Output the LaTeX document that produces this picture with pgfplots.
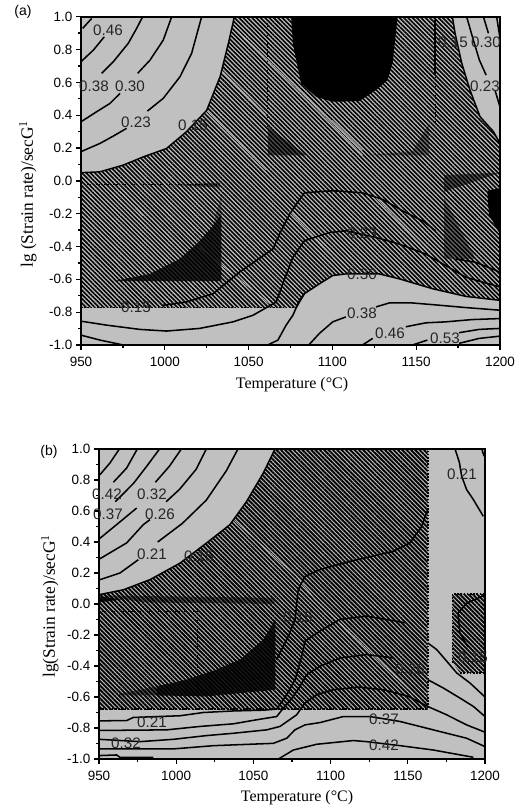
\documentclass[border=0pt]{standalone}
\usepackage{fontspec}
\setmainfont{Liberation Sans}
\newfontfamily\serif{Liberation Serif}
\usepackage{pgfplots}
\pgfplotsset{compat=1.18}
\usetikzlibrary{patterns.meta}
\definecolor{cg}{RGB}{192,192,192}
\pgfplotsset{
  panel/.style={
    scale only axis, xmin=950, xmax=1200, ymin=-1, ymax=1,
    xtick={950,1000,...,1200}, ytick={-1,-0.8,...,1.01},
    minor x tick num=1, minor y tick num=1,
    tick align=outside, xtick pos=bottom, ytick pos=left,
    major tick length=3.5pt, minor tick length=2.2pt,
    every tick/.style={black,line width=1pt},
    axis line style={line width=1.8pt},
    axis background/.style={fill=cg},
    axis on top,
    tick label style={font=\fontsize{10.1}{11}\selectfont},
    /pgf/number format/assume math mode=true,
    xticklabel={\pgfmathprintnumber[fixed,precision=0,1000 sep={}]{\tick}},
    yticklabel={\pgfmathprintnumber[fixed,fixed zerofill,precision=1]{\tick}},
    xticklabel shift=2pt, yticklabel shift=-0.5pt,
  },
  hatch/.style={draw=none,pattern={Lines[angle=-45,distance=2.3pt,line width=1.2pt]},pattern color=black},
  hatchb/.style={draw=none,pattern={Lines[angle=-45,distance=2.3pt,line width=1.4pt]},pattern color=black},
  grey/.style={draw=none,fill=cg},
  edge/.style={black,line width=1.1pt},
  cl/.style={black,line width=1.15pt},
  dark/.style={draw=none,fill=black,fill opacity=#1},
  streak/.style={cg,line width=0.5pt},
}
\newcommand{\lab}[3]{\node[font=\fontsize{11.4}{12}\selectfont,text=black!85,inner sep=0pt] at (#1*0.75pt,{(811-#2)*0.75pt}) {#3};}
\begin{document}
\begin{tikzpicture}[x=1pt,y=1pt]
\path[use as bounding box] (0,0) rectangle (396,608.25);
% ---------- panel a
\begin{axis}[panel, at={(60.75pt,349.5pt)}, anchor=south west, width=314.25pt, height=246.2pt]
\addplot[hatch] coordinates {(950,-0.772)(1200,-0.772)(1200,1)(950,1)};
\addplot[streak] coordinates {(1040.7,0.94)(1086.3,0.49)(1118,0.156)};
\addplot[streak] coordinates {(1032.7,0.685)(1060.5,0.40)};
\addplot[streak] coordinates {(1024.8,0.43)(1060.5,0.065)};
\addplot[streak] coordinates {(973.2,-0.0625)(987.1,-0.214)};
\addplot[streak] coordinates {(1020.8,-0.405)(1062.5,-0.748)};
\addplot[streak] coordinates {(1126,-0.103)(1167.6,-0.546)};
\addplot[streak] coordinates {(1074.4,-0.183)(1108.1,-0.546)};
\addplot[streak] coordinates {(1100,0.37)(1118,0.187)};
\addplot[grey] coordinates {(950,1)(950,0.05)(961.3,0.055)(975.2,0.096)(987.1,0.146)(1001,0.197)(1013,0.30)(1025,0.43)(1033,0.635)(1038,0.84)(1041.5,1)};
\addplot[grey] coordinates {(1171.6,1)(1173.2,0.899)(1177.2,0.716)(1182.1,0.553)(1188.1,0.391)(1196.1,0.30)(1200,0.228)(1200,1)};
\addplot[grey] coordinates {(950,-1)(950,-0.772)(1078.4,-0.772)(1083.3,-0.6875)(1092.3,-0.627)(1100.2,-0.577)(1108,-0.567)(1128,-0.567)(1139.9,-0.597)(1159.7,-0.657)(1179.6,-0.704)(1200,-0.728)(1200,-1)};
\addplot[dark=1] coordinates {(1075.4,1)(1076.4,0.837)(1081.3,0.593)(1090.3,0.512)(1100.2,0.482)(1116,0.486)(1126,0.553)(1132.9,0.614)(1135.9,0.715)(1138.9,1)};
\addplot[dark=0.8] coordinates {(969.2,-0.611)(991,-0.567)(1008.9,-0.476)(1020.8,-0.365)(1028.8,-0.274)(1033.7,-0.2)(1033.7,-0.611)};
\addplot[dark=0.35] coordinates {(1028.8,-0.274)(1033.7,-0.08)(1033.7,-0.2)};
\addplot[dark=1] coordinates {(1192.4,-0.06)(1200,-0.045)(1200,-0.325)(1193.4,-0.204)};
\addplot[dark=0.55] coordinates {(1166.7,0.035)(1200,0.05)(1166.7,-0.067)};
\addplot[dark=0.45] coordinates {(1166.7,-0.103)(1166.7,-0.476)(1185.5,-0.476)};
\addplot[dark=0.6] coordinates {(1061.5,0.329)(1061.5,0.156)(1084.3,0.156)};
\addplot[dark=0.4] coordinates {(1120,0.156)(1147.8,0.18)(1157.7,0.35)(1157.7,0.156)};
\addplot[dark=0.5] coordinates {(1005,-0.025)(1033,-0.04)(1033,-0.01)};
% boundaries
\addplot[edge] coordinates {(950,0.05)(961.3,0.055)(975.2,0.096)(987.1,0.146)(1001,0.197)(1013,0.30)(1025,0.43)(1033,0.635)(1038,0.84)(1041.5,1)};
\addplot[edge] coordinates {(1171.6,1)(1173.2,0.899)(1177.2,0.716)(1182.1,0.553)(1188.1,0.391)(1196.1,0.30)(1200,0.228)};
\addplot[edge] coordinates {(1078.4,-0.772)(1083.3,-0.6875)(1092.3,-0.627)(1100.2,-0.577)(1108,-0.567)(1128,-0.567)(1139.9,-0.597)(1159.7,-0.657)(1179.6,-0.704)(1200,-0.728)};
\addplot[black,line width=1.2pt,dash pattern=on 1.2pt off 1.2pt] coordinates {(950,-0.772)(1078.4,-0.772)};
\addplot[black,line width=1pt] coordinates {(1161.3,0.98)(1161.3,0.65)};
\addplot[black,line width=0.7pt,dash pattern=on 1pt off 1.2pt] coordinates {(1161.3,0.65)(1161.3,0.36)};
\addplot[black,line width=0.6pt,dash pattern=on 1pt off 1.2pt] coordinates {(1061.5,0.98)(1061.5,0.33)};
\addplot[black,line width=0.6pt,dash pattern=on 1pt off 1.2pt] coordinates {(950,-0.02)(1033,-0.02)};
% contour lines top-left
\addplot[cl] coordinates {(951,0.929)(956.4,0.99)};
\addplot[cl] coordinates {(950,0.726)(957.4,0.797)(963.9,0.878)};
\addplot[cl] coordinates {(962.3,0.655)(969.3,0.726)(978.2,0.838)(983.2,0.929)(986.8,1)};
\addplot[cl] coordinates {(983.8,0.655)(991.2,0.736)(999.1,0.858)(1004.1,1)};
\addplot[cl] coordinates {(950,0.36)(959.3,0.421)(967.3,0.472)(973.3,0.533)};
\addplot[cl] coordinates {(989.6,0.425)(999.1,0.503)(1009.1,0.635)(1016,0.777)(1022,1)};
\addplot[cl] coordinates {(950,0.178)(961.3,0.228)(969.3,0.273)(977.2,0.32)};
% top-right
\addplot[cl] coordinates {(1180.1,1)(1184.1,0.858)(1187.7,0.736)(1191.7,0.645)};
\addplot[cl] coordinates {(1190.1,1)(1193.1,0.899)};
\addplot[cl] coordinates {(1198,1)(1200,0.87)};
\addplot[cl] coordinates {(1197,0.553)(1200,0.45)};
% lower lines
\addplot[cl] coordinates {(950,-0.855)(965.3,-0.879)(985.1,-0.905)(1001,-0.915)(1020.8,-0.899)(1040.7,-0.859)(1052.6,-0.819)(1066.5,-0.738)(1070.4,-0.627)(1076.4,-0.466)(1083.3,-0.365)(1098.2,-0.315)(1108.1,-0.304)(1126,-0.345)(1139.9,-0.385)(1155.7,-0.446)(1179.6,-0.587)(1200,-0.647)};
\addplot[cl] coordinates {(999,-0.758)(1012.9,-0.738)(1028.8,-0.688)(1044.6,-0.556)(1064.5,-0.415)(1069.4,-0.304)(1074.4,-0.204)(1078.4,-0.143)(1083.3,-0.073)(1100,-0.06)(1118,-0.073)(1130,-0.113)(1141.9,-0.183)(1153.8,-0.244)(1161.7,-0.304)};
\addplot[cl] coordinates {(1173.6,-0.476)(1185.5,-0.496)(1200,-0.556)};
\addplot[cl] coordinates {(950,-0.94)(961.3,-0.97)(975.2,-1)};
\addplot[cl] coordinates {(1061.5,-1)(1067.5,-0.97)(1072.4,-0.879)(1076.4,-0.819)(1080.4,-0.728)(1083.3,-0.6875)};
\addplot[cl] coordinates {(1085.9,-1)(1092.3,-0.929)(1100.2,-0.859)(1108,-0.829)};
\addplot[cl] coordinates {(1126,-0.768)(1133.9,-0.744)(1147.8,-0.744)(1159.7,-0.754)(1179.6,-0.772)(1200,-0.788)};
\addplot[cl] coordinates {(1118,-1)(1124,-0.96)};
\addplot[cl] coordinates {(1143.8,-0.889)(1155.7,-0.865)(1167.6,-0.859)(1183.5,-0.845)(1200,-0.839)};
\addplot[cl] coordinates {(1147.8,-1)(1156.7,-0.97)};
\addplot[cl] coordinates {(1175.6,-0.925)(1187.5,-0.905)(1200,-0.899)};
\addplot[cl] coordinates {(1175.6,-0.99)(1187.5,-0.96)(1200,-0.946)};
\end{axis}
% ---------- panel b
\begin{axis}[panel, at={(74.25pt,39pt)}, anchor=south west, width=289.5pt, height=232.5pt]
\addplot[hatchb] coordinates {(950,-0.678)(1162.9,-0.678)(1162.9,1)(950,1)};
\addplot[hatchb] coordinates {(1179,0.065)(1200,0.065)(1200,-0.445)(1184,-0.445)(1179,-0.38)};
\addplot[streak] coordinates {(1037,0.544)(1078,0.178)(1089.9,0.03)(1157.9,-0.618)};
\addplot[grey] coordinates {(950,1)(950,0.06)(965.8,0.092)(983,0.157)(1002.5,0.264)(1019.7,0.394)(1034.8,0.512)(1045.6,0.662)(1056.4,0.845)(1064,1)};
\addplot[dark=0.85] coordinates {(987.4,-0.531)(1006.8,-0.488)(1026.2,-0.423)(1041.3,-0.359)(1056.4,-0.229)(1064.2,-0.099)(1064.2,-0.553)(1019.7,-0.596)(987.4,-0.59)};
\addplot[dark=0.5] coordinates {(963,-0.58)(987.4,-0.531)(987.4,-0.59)(963,-0.59)};
\addplot[dark=0.5] coordinates {(950,0.055)(1064,0.04)(1064,0)(980,0.01)};
\addplot[dark=0.9] coordinates {(950,0.05)(965,0.03)(950,0.01)};
\addplot[black,line width=0.6pt,dash pattern=on 1pt off 1.2pt] coordinates {(950,-0.045)(1013,-0.045)};
\addplot[black,line width=0.6pt,dash pattern=on 1pt off 1.2pt] coordinates {(1014,-0.045)(1014,-0.6)};
\addplot[edge] coordinates {(950,0.06)(965.8,0.092)(983,0.157)(1002.5,0.264)(1019.7,0.394)(1034.8,0.512)(1045.6,0.662)(1056.4,0.845)(1064,1)};
\addplot[black,line width=1.2pt,dash pattern=on 1.2pt off 1.2pt] coordinates {(950,-0.678)(1162.9,-0.678)(1162.9,1)};
\addplot[black,line width=1.2pt,dash pattern=on 1.2pt off 1.2pt] coordinates {(1179,-0.38)(1179,0.065)(1200,0.065)};
\addplot[black,line width=1.2pt,dash pattern=on 1.2pt off 1.2pt] coordinates {(1184,-0.445)(1200,-0.445)};
% lines top-left
\addplot[cl] coordinates {(950.6,0.834)(957.1,0.91)(963.2,1)};
\addplot[cl] coordinates {(959.3,0.785)(967.9,0.877)(974.8,1)};
\addplot[cl] coordinates {(960.6,0.66)(972.5,0.78)(981,0.89)(989.2,1)};
\addplot[cl] coordinates {(986.5,0.785)(995.7,0.89)(1003.3,1)};
\addplot[cl] coordinates {(993.5,0.66)(1002.2,0.74)(1013,0.87)(1019.5,1)};
\addplot[cl] coordinates {(988,0.40)(1004,0.52)(1019.5,0.67)(1032.5,0.86)(1040,1)};
\addplot[cl] coordinates {(950,0.419)(961.4,0.512)(974.4,0.619)};
\addplot[cl] coordinates {(950.6,0.292)(967.9,0.394)(978.7,0.512)(983,0.544)};
\addplot[cl] coordinates {(950.6,0.157)(963.6,0.20)(975.5,0.286)};
\addplot[cl] coordinates {(1078,0)(1079,0.092)(1083.4,0.178)(1093.1,0.222)(1112.6,0.275)(1140.6,0.34)(1151.4,0.394)(1159,0.501)(1162.9,0.609)};
\addplot[cl] coordinates {(1180.6,1)(1183.4,0.914)(1184.9,0.824)(1188.1,0.738)(1192.5,0.673)(1198.9,0.566)};
\addplot[cl] coordinates {(1197.9,1)(1199.4,0.953)};
\addplot[cl] coordinates {(1078,0)(1077,-0.1)(1073,-0.2)(1065,-0.36)};
\addplot[cl] coordinates {(1182.5,-0.058)(1188.3,0.006)(1200,0.058)};
\addplot[cl] coordinates {(1182.5,-0.058)(1183.8,-0.187)(1189,-0.277)};
% long lines
\addplot[cl] coordinates {(950,-0.754)(967.9,-0.752)(972.2,-0.732)(1002.5,-0.721)(1017.6,-0.70)(1037,-0.69)(1056.4,-0.685)(1065.1,-0.678)(1071.6,-0.585)(1077,-0.488)(1081.3,-0.337)(1083.4,-0.24)(1093.1,-0.175)(1106.1,-0.099)(1123.4,-0.078)(1148.2,-0.121)};
\addplot[cl] coordinates {(1162.9,-0.251)(1168.7,-0.294)(1175.2,-0.369)(1181.7,-0.445)(1190.3,-0.51)(1200,-0.60)};
\addplot[cl] coordinates {(950,-0.816)(993.8,-0.812)(1015.4,-0.79)(1037,-0.773)(1052.1,-0.747)(1065.1,-0.726)(1069.4,-0.672)(1075.9,-0.596)(1080.2,-0.531)(1084.5,-0.456)(1093.1,-0.402)(1106.1,-0.348)(1123.4,-0.326)(1140.6,-0.348)};
\addplot[cl] coordinates {(1162.9,-0.488)(1173,-0.542)(1183.8,-0.607)(1192.5,-0.661)(1200,-0.726)};
\addplot[cl] coordinates {(950,-0.873)(976.6,-0.888)(998.1,-0.873)(1019.7,-0.849)(1037,-0.834)(1058.6,-0.812)(1067.2,-0.79)(1078,-0.715)(1083.4,-0.639)(1091,-0.585)(1101.8,-0.553)(1118,-0.536)(1134.2,-0.553)(1150.4,-0.596)(1162.9,-0.661)(1175.2,-0.715)(1188.1,-0.78)(1200,-0.827)};
\addplot[cl] coordinates {(950,-0.935)(998.1,-0.935)(1024.1,-0.914)(1062.9,-0.899)(1071.6,-0.866)(1076.9,-0.812)(1083.4,-0.78)(1093.1,-0.765)(1108.3,-0.726)(1125.5,-0.726)(1145,-0.758)(1166.5,-0.812)(1188.1,-0.866)(1200,-0.92)};
\addplot[cl] coordinates {(1066.2,-1)(1075.9,-0.942)(1091,-0.905)(1114.7,-0.881)(1123.4,-0.888)(1145,-0.914)(1166.5,-0.942)(1192.5,-0.989)};
\addplot[cl] coordinates {(950,-0.978)(961.4,-0.974)(963.6,-0.989)(985.2,-0.989)};
\end{axis}
% ---------- texts
\lab{108}{30}{0.46}\lab{94}{86}{0.38}\lab{130}{86}{0.30}\lab{136}{122}{0.23}\lab{193}{125}{0.15}
\lab{453}{42}{0.15}\lab{486}{42}{0.30}\lab{485}{86}{0.23}\lab{136}{307}{0.15}\lab{362}{233}{0.23}
\lab{362}{274}{0.30}\lab{362}{313}{0.38}\lab{390}{333}{0.46}\lab{445}{338}{0.53}
\lab{107}{494}{0.42}\lab{152}{494}{0.32}\lab{108}{514}{0.37}\lab{160}{514}{0.26}\lab{152}{554}{0.21}
\lab{199}{556}{0.15}\lab{462}{474}{0.21}\lab{298}{617}{0.15}\lab{410}{669}{0.26}\lab{473}{657}{0.15}
\lab{152}{722}{0.21}\lab{384}{719}{0.37}\lab{126}{743}{0.32}\lab{384}{745}{0.42}
\node[font=\fontsize{10.5}{12}\selectfont,inner sep=0pt] at (23*0.75pt,{(811-12)*0.75pt}) {(a)};
\node[font=\fontsize{10.5}{12}\selectfont,inner sep=0pt] at (49*0.75pt,{(811-452)*0.75pt}) {(b)};
\node[font=\serif\fontsize{12}{12}\selectfont,inner sep=0pt] at (292*0.75pt,{(811-385)*0.75pt}) {Temperature (°C)};
\node[font=\serif\fontsize{12}{12}\selectfont,inner sep=0pt] at (297*0.75pt,{(811-798)*0.75pt}) {Temperature (°C)};
\node[font=\serif\fontsize{13}{13}\selectfont,inner sep=0pt,rotate=90] at (28*0.75pt,{(811-194)*0.75pt}) {lg (Strain rate)/secG$^{1}$};
\node[font=\serif\fontsize{13}{13}\selectfont,inner sep=0pt,rotate=90] at (50*0.75pt,{(811-606)*0.75pt}) {lg(Strain rate)/secG$^{1}$};
\end{tikzpicture}
\end{document}
